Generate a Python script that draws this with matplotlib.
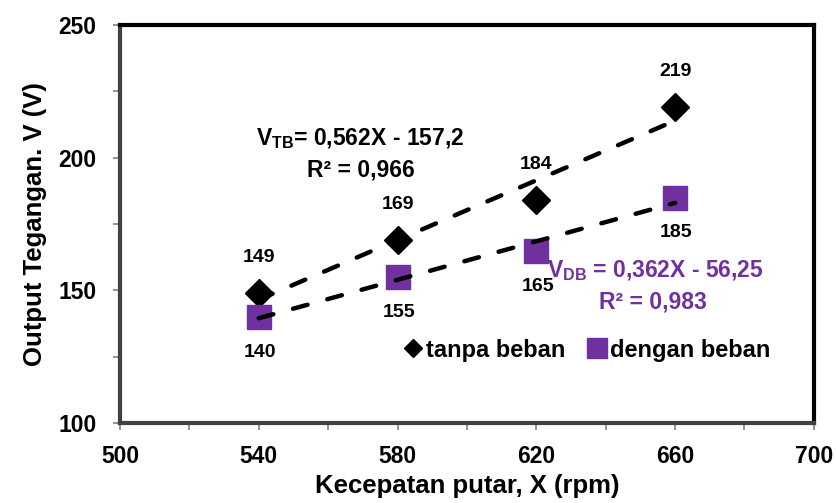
import numpy as np
import matplotlib
matplotlib.use('Agg')
import matplotlib.pyplot as plt
from matplotlib.ticker import MultipleLocator

plt.rcParams['font.family'] = ['Liberation Sans', 'DejaVu Sans']
plt.rcParams['font.weight'] = 'bold'
plt.rcParams['mathtext.fontset'] = 'custom'
plt.rcParams['mathtext.rm'] = 'Liberation Sans:bold'
plt.rcParams['mathtext.it'] = 'Liberation Sans:bold'
plt.rcParams['mathtext.bf'] = 'Liberation Sans:bold'

# data
rpm = [540, 580, 620, 660]
v_tanpa = [149, 169, 184, 219]
v_dengan = [140, 155, 165, 185]
xticks = [500, 540, 580, 620, 660, 700]
yticks = [100, 150, 200, 250]

purple = '#7030A0'

fig = plt.figure(figsize=(8.36, 5.03), dpi=100)
ax = fig.add_axes([0.1435, 0.159, 0.830, 0.791])

ax.plot(rpm, v_tanpa, 'D', color='black', ms=14.5, label='tanpa beban', zorder=3)
ax.plot(rpm, v_dengan, 's', color=purple, ms=17, label='dengan beban', zorder=3)

# linear trendlines, drawn over the markers like Excel does
xs = np.array([rpm[0], rpm[-1]])
for ys in (v_tanpa, v_dengan):
    m, b = np.polyfit(rpm, ys, 1)
    ax.plot(xs, m * xs + b, color='black', lw=3.2, ls=(0, (3.4, 4.6)),
            dash_capstyle='round', zorder=4)

# value labels
for x, y in zip(rpm, v_tanpa):
    ax.annotate(str(y), (x, y), xytext=(0, 25.5), textcoords='offset points',
                ha='center', va='center', fontsize=14, fontweight='bold')
for x, y in zip(rpm, v_dengan):
    ax.annotate(str(y), (x, y), xytext=(1, -25.5), textcoords='offset points',
                ha='center', va='center', fontsize=14, fontweight='bold')

ax.text(0.346, 0.716, 'V$_{TB}$= 0,562X - 157,2', transform=ax.transAxes,
        ha='center', va='center', fontsize=16.5, fontweight='bold')
ax.text(0.347, 0.636, 'R² = 0,966', transform=ax.transAxes,
        ha='center', va='center', fontsize=16.5, fontweight='bold')
ax.text(0.615, 0.384, 'V$_{DB}$ = 0,362X - 56,25', transform=ax.transAxes,
        ha='left', va='center', fontsize=16.5, fontweight='bold', color=purple)
ax.text(0.768, 0.304, 'R² = 0,983', transform=ax.transAxes,
        ha='center', va='center', fontsize=16.5, fontweight='bold', color=purple)

leg = ax.legend(loc='center', bbox_to_anchor=(0.672, 0.183), ncol=2, frameon=False,
                fontsize=17, handletextpad=0.1, columnspacing=0.9, handlelength=0.9,
                borderaxespad=0)
leg.legend_handles[0].set_markersize(9)
leg.legend_handles[1].set_markersize(14)

ax.set_xlim(500, 700)
ax.set_ylim(100, 250)
ax.set_xticks(xticks)
ax.set_yticks(yticks)
ax.xaxis.set_minor_locator(MultipleLocator(20))
ax.yaxis.set_minor_locator(MultipleLocator(25))
ax.tick_params(which='both', direction='out', length=5, width=1.2, color='#808080',
               labelsize=16.5)
ax.tick_params(axis='x', pad=11)
ax.tick_params(axis='y', pad=12)

for s in ('top', 'right'):
    ax.spines[s].set_linewidth(3)
    ax.spines[s].set_color('black')
for s in ('left', 'bottom'):
    ax.spines[s].set_linewidth(3)
    ax.spines[s].set_color('#404040')

ax.set_xlabel('Kecepatan putar, X (rpm)', fontsize=18.5, fontweight='bold', labelpad=4)
ax.set_ylabel('Output Tegangan. V (V)', fontsize=18.5, fontweight='bold', labelpad=8)

fig.savefig('out.png', dpi=100)
